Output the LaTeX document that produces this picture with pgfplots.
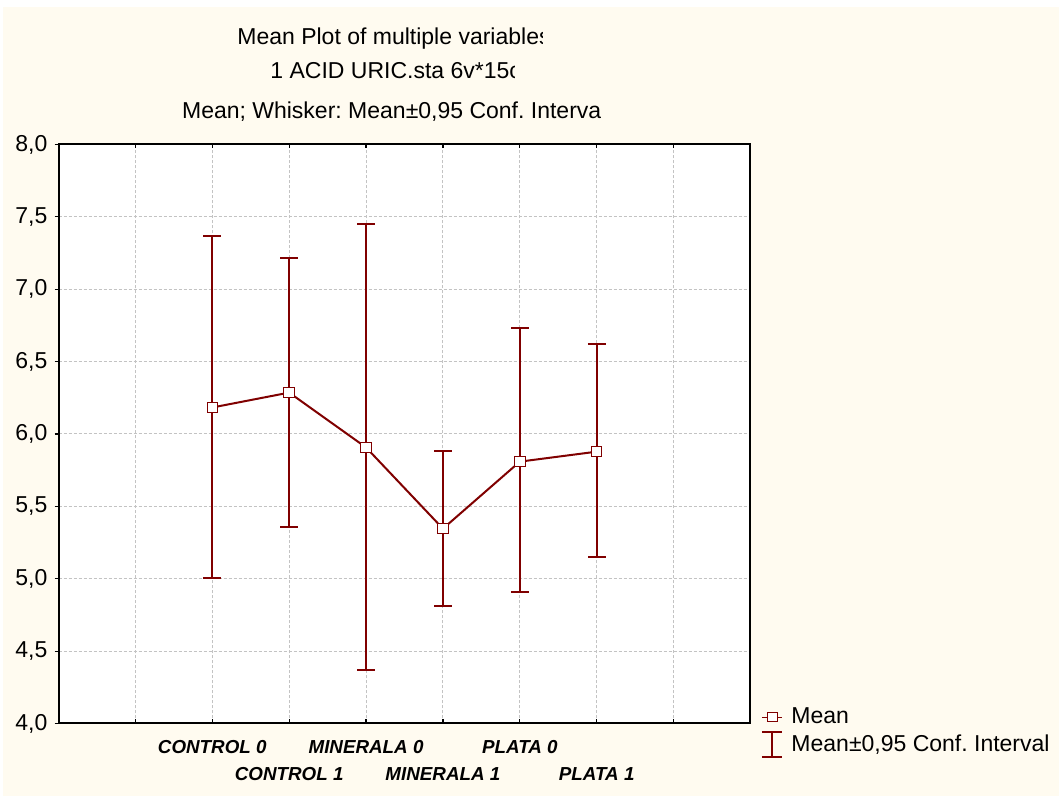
\documentclass[border=0pt]{standalone}
\usepackage{pgfplots}
\pgfplotsset{compat=1.18}
\usepackage{pgfplotstable}
\usepackage{fontspec}
\setmainfont{Liberation Sans}
\frenchspacing
\definecolor{cream}{RGB}{255,251,240}
\definecolor{maroon}{RGB}{128,0,0}
\definecolor{gridgray}{RGB}{195,195,195}

\pgfplotstableread{
x   y      ep     em
2   6.183  1.186  1.181
3   6.286  0.927  0.931
4   5.907  1.543  1.534
5   5.346  0.539  0.533
6   5.809  0.922  0.904
7   5.878  0.744  0.726
}\meandata

\begin{document}
\begin{tikzpicture}
\useasboundingbox (0,0) rectangle (529.5pt,398pt);
\fill[cream] (1.5pt,0pt) rectangle (529.5pt,394.5pt);
% titles (clipped like the original)
\begin{scope}
\clip (100pt,360pt) rectangle (271pt,390pt);
\node[anchor=base west, inner sep=0pt, font=\fontsize{11.5}{13}\selectfont] at (118.5pt,375.5pt) {Mean Plot of multiple variables};
\end{scope}
\begin{scope}
\clip (100pt,350pt) rectangle (257pt,370pt);
\node[anchor=base west, inner sep=0pt, font=\fontsize{11.5}{13}\selectfont] at (135pt,358.5pt) {1 ACID URIC.sta 6v*15c};
\end{scope}
\begin{scope}
\clip (80pt,330pt) rectangle (300pt,350pt);
\node[anchor=base west, inner sep=0pt, font=\fontsize{11.5}{13}\selectfont] at (90.85pt,338.5pt) {Mean; Whisker: Mean±0,95 Conf. Interval};
\end{scope}
\begin{axis}[
  at={(29.25pt,36.25pt)}, anchor=south west,
  scale only axis, width=346pt, height=289.5pt,
  xmin=0, xmax=9, ymin=4, ymax=8,
  axis background/.style={fill=white},
  axis line style={line width=1pt, black},
  xtick={1,2,3,4,5,6,7,8},
  xticklabels={,CONTROL 0,\raisebox{-13.3pt}{CONTROL 1},MINERALA 0,\raisebox{-13.3pt}{MINERALA 1},PLATA 0,\raisebox{-13.3pt}{PLATA 1},},
  ytick={4,4.5,5,5.5,6,6.5,7,7.5,8},
  xtick pos=both, ytick pos=left,
  xtick align=inside, ytick align=outside,
  major tick length=2pt,
  tick style={black, line width=0.6pt},
  grid=major,
  major grid style={gridgray, line width=0.5pt, dash pattern=on 1.5pt off 1pt},
  xticklabel style={font=\fontsize{9.4}{11}\selectfont\bfseries\itshape, anchor=base, yshift=-15pt},
  yticklabel style={font=\fontsize{11.5}{13}\selectfont},
  /pgf/number format/.cd, use comma, fixed, fixed zerofill, precision=1, assume math mode=true,
  /pgfplots/.cd,
  legend style={at={(1,0)}, anchor=north west, xshift=5pt, yshift=10pt,
    draw=none, fill=none, font=\fontsize{11.5}{13}\selectfont, inner sep=0pt, row sep=0pt},
  legend cell align=left,
]
\addplot[forget plot, maroon, line width=1pt, mark=square*, mark size=2.6pt,
  mark options={fill=white, draw=maroon, line width=0.5pt, solid},
  error bars/.cd, y dir=both, y explicit,
  error bar style={line width=1pt, maroon},
  error mark options={rotate=90, mark size=4.4pt, line width=1pt, maroon}]
  table[x=x, y=y, y error plus=ep, y error minus=em] {\meandata};
\addlegendimage{legend image code/.code={
  \path[draw=none, fill=none] (0pt,-1pt) rectangle (12.8pt,1pt);
  \draw[maroon, line width=0.5pt] (0pt,0pt) -- (10.3pt,0pt);
  \draw[maroon, line width=0.5pt, fill=white] (2.65pt,-2.25pt) rectangle (7.65pt,2.25pt);}}
\addlegendentry{Mean}
\addlegendimage{legend image code/.code={
  \path[draw=none, fill=none] (0pt,-1pt) rectangle (12.8pt,1pt);
  \draw[maroon, line width=0.8pt] (5pt,-6.25pt) -- (5pt,6.25pt);
  \draw[maroon, line width=1pt] (0pt,-6.25pt) -- (10pt,-6.25pt) (0pt,6.25pt) -- (10pt,6.25pt);}}
\addlegendentry{Mean±0,95 Conf. Interval}
\end{axis}
\end{tikzpicture}
\end{document}
